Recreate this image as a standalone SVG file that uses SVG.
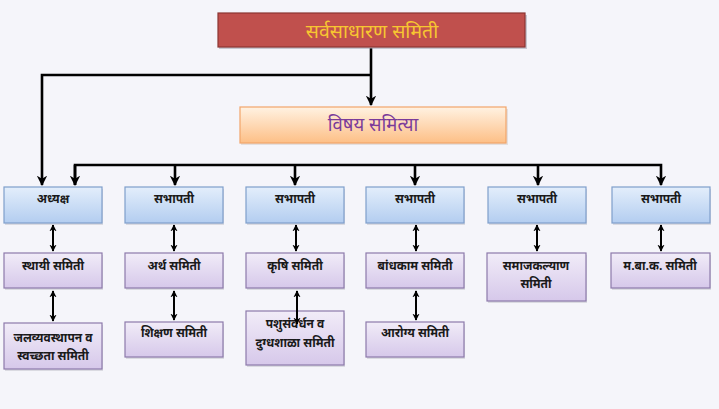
<svg xmlns="http://www.w3.org/2000/svg" width="719" height="409" viewBox="0 0 719 409">
<defs>
<linearGradient id="gBlue" x1="0" y1="0" x2="0" y2="1">
<stop offset="0" stop-color="#e3eefb"/><stop offset="1" stop-color="#b3cdf0"/>
</linearGradient>
<linearGradient id="gPurple" x1="0" y1="0" x2="0" y2="1">
<stop offset="0" stop-color="#f1ecf8"/><stop offset="1" stop-color="#d6c8ea"/>
</linearGradient>
<linearGradient id="gPeach" x1="0" y1="0" x2="0" y2="1">
<stop offset="0" stop-color="#fff2e2"/><stop offset="1" stop-color="#fdbf86"/>
</linearGradient>
<marker id="ah" viewBox="0 0 10 10" refX="9" refY="5" markerWidth="4" markerHeight="4" orient="auto" markerUnits="strokeWidth">
<path d="M0,0 L10,5 L0,10 L3,5 Z" fill="#000"/>
</marker>
<marker id="as" viewBox="0 0 10 10" refX="9" refY="5" markerWidth="3.6" markerHeight="3.6" orient="auto-start-reverse" markerUnits="strokeWidth">
<path d="M0,0 L10,5 L0,10 L3,5 Z" fill="#000"/>
</marker>
</defs>
<style>
.bg{fill:#f5f5fa}
.sh{fill:#c8c8d0;opacity:0.6}
.blue{fill:url(#gBlue);stroke:#7f9fcb;stroke-width:1.2}
.pur{fill:url(#gPurple);stroke:#8d7aab;stroke-width:1.2}
.t{font-family:"Noto Sans Devanagari","Noto Serif Devanagari","Lohit Devanagari","Noto Sans",sans-serif;text-anchor:middle;fill:#1a1a1a;font-weight:bold;font-size:12px}
.main{fill:none;stroke:#000;stroke-width:2.6}
.dbl{fill:none;stroke:#000;stroke-width:2}
</style>
<rect class="bg" x="0" y="0" width="719" height="409"/>

<g id="connectors">
<path class="main" d="M371,48 V105" marker-end="url(#ah)"/>
<path class="main" d="M371,75 H42 V185" marker-end="url(#ah)"/>
<path class="main" d="M75,185 V165 H661 V185" marker-end="url(#ah)"/>
<path class="main" d="M175,165 V185" marker-end="url(#ah)"/>
<path class="main" d="M295,165 V185" marker-end="url(#ah)"/>
<path class="main" d="M415,165 V185" marker-end="url(#ah)"/>
<path class="main" d="M538,165 V185" marker-end="url(#ah)"/>
<path class="main" d="M75,165 V185" marker-end="url(#ah)"/>
<path class="dbl" d="M53,225 V251" marker-start="url(#as)" marker-end="url(#as)"/>
<path class="dbl" d="M174,225 V251" marker-start="url(#as)" marker-end="url(#as)"/>
<path class="dbl" d="M296,225 V251" marker-start="url(#as)" marker-end="url(#as)"/>
<path class="dbl" d="M416,225 V251" marker-start="url(#as)" marker-end="url(#as)"/>
<path class="dbl" d="M537,225 V251" marker-start="url(#as)" marker-end="url(#as)"/>
<path class="dbl" d="M661,225 V251" marker-start="url(#as)" marker-end="url(#as)"/>
<path class="dbl" d="M53,291 V321" marker-start="url(#as)" marker-end="url(#as)"/>
<path class="dbl" d="M174,291 V320" marker-start="url(#as)" marker-end="url(#as)"/>
<path class="dbl" d="M416,291 V320" marker-start="url(#as)" marker-end="url(#as)"/>
</g>

<g id="n-top">
<rect x="219" y="15" width="308" height="34" fill="#9a9aa8" opacity="0.5"/>
<rect x="218" y="13" width="307" height="34" fill="#c0504d" stroke="#8c3533" stroke-width="1.2"/>
<text x="372" y="38" font-family="'Noto Sans Devanagari','Noto Serif Devanagari','Noto Sans',sans-serif" font-size="19.5" text-anchor="middle" fill="#f7c631">सर्वसाधारण समिती</text>
</g>

<g id="n-vishay">
<rect x="241" y="109" width="267" height="36" fill="#d8d0cc" opacity="0.6"/>
<rect x="240" y="107" width="266" height="36" fill="url(#gPeach)" stroke="#f2a56a" stroke-width="1.2"/>
<text x="373" y="131" font-family="'Noto Sans Devanagari','Noto Serif Devanagari','Noto Sans',sans-serif" font-size="18.5" text-anchor="middle" fill="#7a3b9a">विषय समित्या</text>
</g>

<g id="n-adhyaksha"><rect class="sh" x="5" y="189" width="98" height="36"/><rect class="blue" x="4" y="187" width="98" height="36"/><text class="t" x="53" y="203">अध्यक्ष</text></g>
<g id="n-sabhapati1"><rect class="sh" x="126" y="189" width="98" height="36"/><rect class="blue" x="125" y="187" width="98" height="36"/><text class="t" x="174" y="203">सभापती</text></g>
<g id="n-sabhapati2"><rect class="sh" x="247" y="189" width="98" height="36"/><rect class="blue" x="246" y="187" width="98" height="36"/><text class="t" x="295" y="203">सभापती</text></g>
<g id="n-sabhapati3"><rect class="sh" x="367" y="189" width="98" height="36"/><rect class="blue" x="366" y="187" width="98" height="36"/><text class="t" x="415" y="203">सभापती</text></g>
<g id="n-sabhapati4"><rect class="sh" x="489" y="189" width="98" height="36"/><rect class="blue" x="488" y="187" width="98" height="36"/><text class="t" x="537" y="203">सभापती</text></g>
<g id="n-sabhapati5"><rect class="sh" x="613" y="189" width="98" height="36"/><rect class="blue" x="612" y="187" width="98" height="36"/><text class="t" x="661" y="203">सभापती</text></g>

<g id="n-sthayi"><rect class="sh" x="5" y="255" width="98" height="35"/><rect class="pur" x="4" y="253" width="98" height="35"/><text class="t" x="53" y="270">स्थायी समिती</text></g>
<g id="n-artha"><rect class="sh" x="126" y="255" width="98" height="35"/><rect class="pur" x="125" y="253" width="98" height="35"/><text class="t" x="174" y="270">अर्थ समिती</text></g>
<g id="n-krushi"><rect class="sh" x="247" y="255" width="98" height="35"/><rect class="pur" x="246" y="253" width="98" height="35"/><text class="t" x="295" y="270">कृषि समिती</text></g>
<g id="n-bandhkam"><rect class="sh" x="367" y="255" width="98" height="35"/><rect class="pur" x="366" y="253" width="98" height="35"/><text class="t" x="415" y="270">बांधकाम समिती</text></g>
<g id="n-samajkalyan"><rect class="sh" x="488" y="255" width="99" height="48"/><rect class="pur" x="487" y="253" width="99" height="48"/><text class="t" x="536" y="270">समाजकल्याण</text><text class="t" x="536" y="288">समिती</text></g>
<g id="n-mbk"><rect class="sh" x="612" y="255" width="99" height="35"/><rect class="pur" x="611" y="253" width="99" height="35"/><text class="t" x="660" y="270">म.बा.क. समिती</text></g>

<g id="n-jal"><rect class="sh" x="5" y="325" width="98" height="46"/><rect class="pur" x="4" y="323" width="98" height="46"/><text class="t" x="53" y="342">जलव्यवस्थापन व</text><text class="t" x="53" y="360">स्वच्छता समिती</text></g>
<g id="n-shikshan"><rect class="sh" x="126" y="324" width="98" height="35"/><rect class="pur" x="125" y="322" width="98" height="35"/><text class="t" x="174" y="337">शिक्षण समिती</text></g>
<g id="n-pashu"><rect class="sh" x="247" y="313" width="98" height="54"/><rect class="pur" x="246" y="311" width="98" height="54"/><text class="t" x="295" y="328">पशुसंवर्धन व</text><text class="t" x="295" y="347">दुग्धशाळा समिती</text></g>
<g id="n-arogya"><rect class="sh" x="367" y="324" width="98" height="35"/><rect class="pur" x="366" y="322" width="98" height="35"/><text class="t" x="415" y="337">आरोग्य समिती</text></g>

<g id="connectors-over">
<path class="dbl" d="M297,291 V324" marker-start="url(#as)" marker-end="url(#as)"/>
</g>
</svg>
